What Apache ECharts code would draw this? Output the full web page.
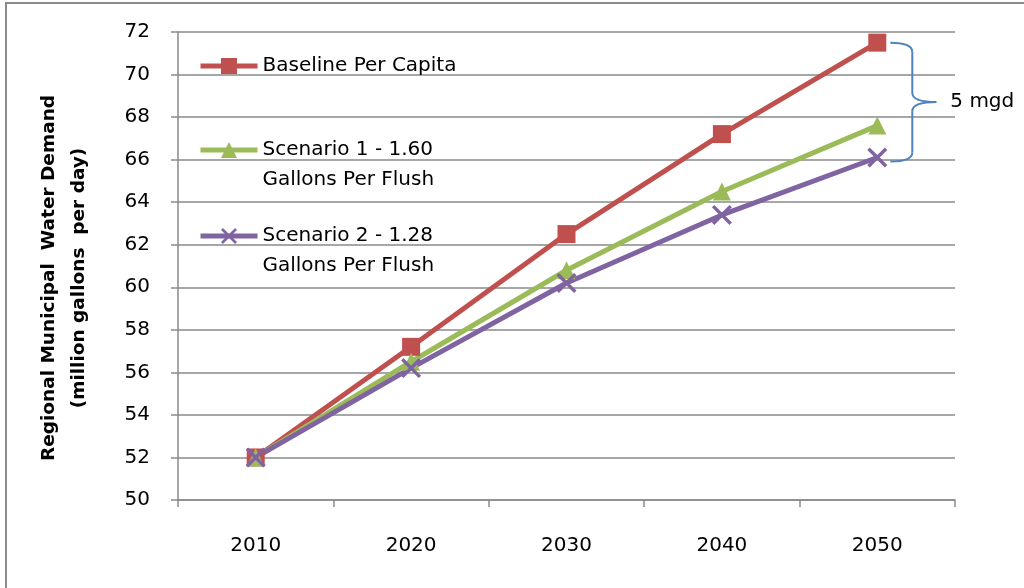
<!DOCTYPE html>
<html>
<head>
<meta charset="utf-8">
<script src="https://cdn.jsdelivr.net/npm/echarts@6/dist/echarts.min.js"></script>
<style>
  html, body { margin: 0; padding: 0; background: #fff; }
  #chart { width: 1024px; height: 588px; }
</style>
</head>
<body>
<div id="chart"></div>
<script>
// Projected regional municipal water demand (mgd) by decade
const years = ['2010', '2020', '2030', '2040', '2050'];
const baselinePerCapita = [52.0, 57.2, 62.5, 67.2, 71.5];
const scenario1 = [52.0, 56.5, 60.8, 64.5, 67.6];
const scenario2 = [52.0, 56.2, 60.2, 63.4, 66.1];

const seriesNames = [
  'Baseline Per Capita',
  'Scenario 1 - 1.60\nGallons Per Flush',
  'Scenario 2 - 1.28\nGallons Per Flush'
];
const braceLabel = '5 mgd';
const yTitle = 'Regional Municipal  Water Demand\n(million gallons  per day)';

const FONT = '"DejaVu Sans", sans-serif';
const GRID_GRAY = '#8a8a8a';
const RED = '#C0504D', GREEN = '#9BBB59', PURPLE = '#8064A2', BLUE = '#4F81BD';

// thin "x" marker
const crossSymbol = 'path://M0,1.2L1.2,0L10,8.8L8.8,10Z M8.8,0L10,1.2L1.2,10L0,8.8Z';

const chart = echarts.init(document.getElementById('chart'));

// One legend block per series; two-line names get a blank leading line so the
// first text line sits level with the icon.
function legendBox(name, top, twoLine) {
  return {
    data: [name],
    orient: 'vertical',
    left: 198,
    top: top,
    padding: 0,
    itemWidth: 57,
    itemHeight: 20,
    selectedMode: false,
    lineStyle: { width: 5 },
    formatter: n => (twoLine ? '\n' + n : n),
    textStyle: {
      fontFamily: FONT,
      fontSize: 20,
      color: '#000',
      lineHeight: 30
    }
  };
}

chart.setOption({
  animation: false,
  backgroundColor: '#fff',
  grid: { left: 178, right: 69, top: 32, bottom: 88, containLabel: false },
  legend: [
    legendBox(seriesNames[0], 51, false),
    legendBox(seriesNames[1], 105, true),
    legendBox(seriesNames[2], 191, true)
  ],
  xAxis: {
    type: 'category',
    data: years,
    boundaryGap: true,
    axisLine: { lineStyle: { color: GRID_GRAY, width: 1.5 } },
    axisTick: { show: true, length: 7, lineStyle: { color: GRID_GRAY, width: 1.5 } },
    axisLabel: { margin: 36, fontFamily: FONT, fontSize: 20, color: '#000' }
  },
  yAxis: {
    type: 'value',
    min: 50,
    max: 72,
    interval: 2,
    name: yTitle,
    nameLocation: 'middle',
    nameGap: 84,
    nameRotate: 90,
    nameTextStyle: {
      fontFamily: FONT, fontSize: 18.5, fontWeight: 'bold', color: '#000',
      lineHeight: 30, padding: [0, 24, 0, 0]
    },
    axisLine: { show: true, lineStyle: { color: GRID_GRAY, width: 1.5 } },
    axisTick: { show: true, length: 7, lineStyle: { color: GRID_GRAY, width: 1.5 } },
    axisLabel: { margin: 28, fontFamily: FONT, fontSize: 20, color: '#000' },
    splitLine: { lineStyle: { color: GRID_GRAY, width: 1.5 } }
  },
  series: [
    {
      name: seriesNames[0], type: 'line', data: baselinePerCapita,
      symbol: 'rect', symbolSize: 18,
      lineStyle: { color: RED, width: 5 }, itemStyle: { color: RED }
    },
    {
      name: seriesNames[1], type: 'line', data: scenario1,
      symbol: 'triangle', symbolSize: 18,
      lineStyle: { color: GREEN, width: 5 }, itemStyle: { color: GREEN }
    },
    {
      name: seriesNames[2], type: 'line', data: scenario2,
      symbol: crossSymbol, symbolSize: 20,
      lineStyle: { color: PURPLE, width: 5 }, itemStyle: { color: PURPLE }
    }
  ]
});

// Brace spanning the 2050 gap between the baseline and scenario 2
function drawBrace() {
  const last = years.length - 1;
  const top = chart.convertToPixel({ gridIndex: 0 }, [last, baselinePerCapita[last]]);
  const bot = chart.convertToPixel({ gridIndex: 0 }, [last, scenario2[last]]);
  const x0 = top[0] + 13, xv = top[0] + 35, xt = top[0] + 59;
  const yT = top[1], yB = bot[1] + 4, yM = (yT + yB) / 2, r = 9;
  const braceStyle = { fill: null, stroke: BLUE, lineWidth: 2 };
  const curve = (x1, y1, cx, cy, x2, y2) => ({
    type: 'bezierCurve', silent: true,
    shape: { x1: x1, y1: y1, cpx1: cx, cpy1: cy, x2: x2, y2: y2 },
    style: braceStyle
  });
  const seg = (x1, y1, x2, y2) => ({
    type: 'line', silent: true,
    shape: { x1: x1, y1: y1, x2: x2, y2: y2 },
    style: braceStyle
  });
  chart.setOption({
    graphic: [
      curve(x0, yT, xv, yT, xv, yT + r),
      seg(xv, yT + r, xv, yM - r),
      curve(xv, yM - r, xv, yM, xt, yM),
      curve(xt, yM, xv, yM, xv, yM + r),
      seg(xv, yM + r, xv, yB - r),
      curve(xv, yB - r, xv, yB, x0, yB),
      {
        type: 'text', silent: true,
        x: xt + 14, y: yM,
        style: {
          text: braceLabel, font: '20px ' + FONT, fill: '#000',
          verticalAlign: 'middle', textVerticalAlign: 'middle'
        }
      },
      // chart-area frame (top and left edges)
      {
        type: 'polyline', silent: true,
        shape: { points: [[6, 600], [6, 3], [1030, 3]] },
        style: { fill: null, stroke: GRID_GRAY, lineWidth: 2 }
      }
    ]
  });
}
drawBrace();
</script>
</body>
</html>
